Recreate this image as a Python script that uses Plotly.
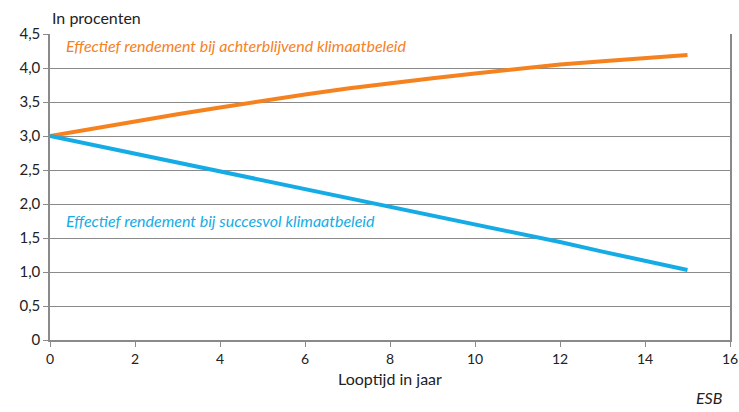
import plotly.graph_objects as go

# Looptijd (jaren) en effectief rendement (%) per scenario
jaren = list(range(0, 16))
achterblijvend = [3.00, 3.11, 3.22, 3.32, 3.42, 3.52, 3.61, 3.70, 3.78, 3.85, 3.92, 3.99, 4.05, 4.10, 4.15, 4.19]
succesvol = [3.00, 2.87, 2.74, 2.62, 2.49, 2.36, 2.23, 2.10, 1.97, 1.84, 1.71, 1.57, 1.44, 1.30, 1.17, 1.03]

y_ticks = [0, 0.5, 1.0, 1.5, 2.0, 2.5, 3.0, 3.5, 4.0, 4.5]
y_ticklabels = ["0", "0,5", "1,0", "1,5", "2,0", "2,5", "3,0", "3,5", "4,0", "4,5"]
x_ticks = [0, 2, 4, 6, 8, 10, 12, 14, 16]

oranje = "#F5821F"
blauw = "#15ACE6"
grijs = "#8a8a8a"
font = "Lato"

fig = go.Figure()
fig.add_trace(go.Scatter(x=jaren, y=achterblijvend, mode="lines",
                         line=dict(color=oranje, width=4), hoverinfo="skip"))
fig.add_trace(go.Scatter(x=jaren, y=succesvol, mode="lines",
                         line=dict(color=blauw, width=4), hoverinfo="skip"))

fig.update_layout(
    width=739, height=412,
    margin=dict(l=50, r=9, t=34, b=72, autoexpand=False),
    paper_bgcolor="white", plot_bgcolor="white",
    showlegend=False,
    font=dict(family=font, size=15, color="#222"),
    xaxis=dict(range=[0, 16], tickvals=x_ticks, showgrid=False, zeroline=False,
               showline=True, linecolor=grijs, linewidth=1.5, automargin=False,
               ticks="outside", ticklen=5, tickcolor=grijs, ticklabeloverflow="allow",
               tickfont=dict(size=14), title=dict(text="Looptijd in jaar", font=dict(size=16), standoff=8)),
    yaxis=dict(range=[0, 4.5], tickvals=y_ticks, ticktext=y_ticklabels,
               showgrid=True, gridcolor=grijs, gridwidth=1, zeroline=False,
               showline=True, linecolor=grijs, linewidth=1.5, mirror=True, automargin=False,
               ticks="outside", ticklen=5, tickcolor=grijs,
               tickfont=dict(size=15)),
    annotations=[
        dict(text="In procenten", xref="paper", yref="paper", x=0, y=1.0,
             xanchor="left", yanchor="bottom", yshift=5, showarrow=False,
             font=dict(size=16, color="#222")),
        dict(text="<i>Effectief rendement bij achterblijvend klimaatbeleid</i>",
             x=0.33, y=4.33, xanchor="left", yanchor="middle", showarrow=False,
             font=dict(size=16, color=oranje)),
        dict(text="<i>Effectief rendement bij succesvol klimaatbeleid</i>",
             x=0.33, y=1.76, xanchor="left", yanchor="middle", showarrow=False,
             font=dict(size=16, color=blauw)),
        dict(text="<i>ESB</i>", xref="paper", yref="paper", x=1.0, y=0,
             xanchor="right", yanchor="top", yshift=-46, xshift=-6, showarrow=False,
             font=dict(size=16, color="#222")),
    ],
)

fig.write_html("out.html")
